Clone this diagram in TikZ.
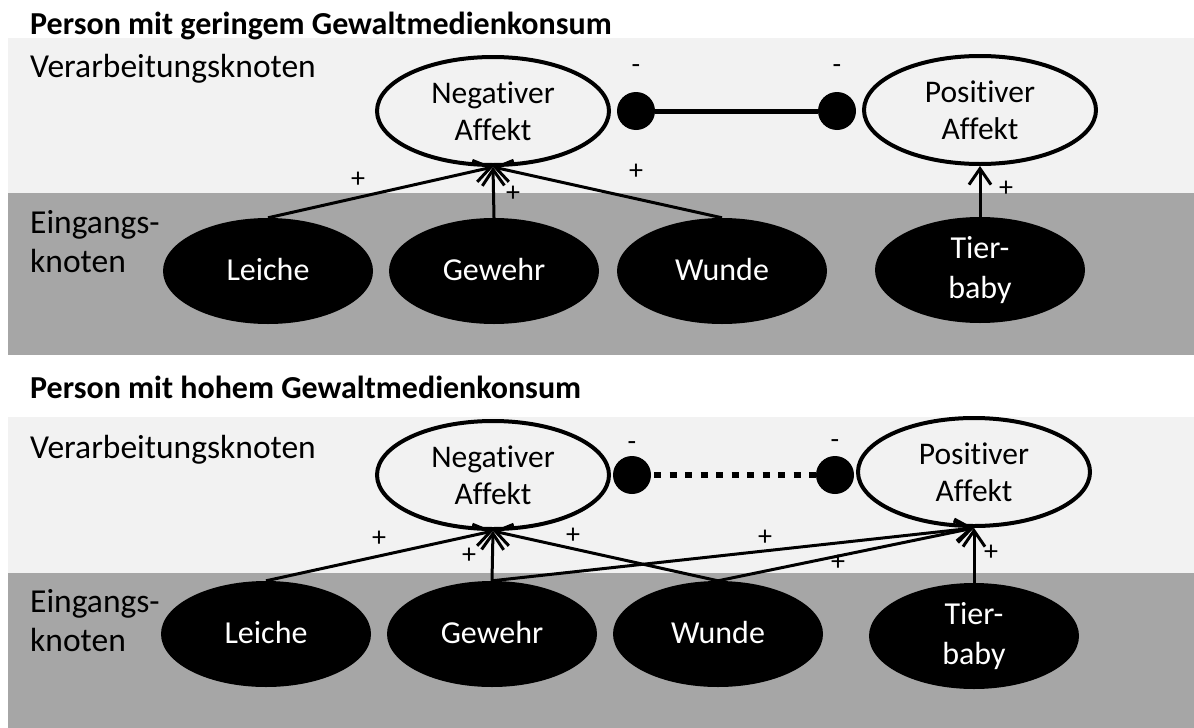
\documentclass[tikz,border=0pt]{standalone}
\usepackage{fontspec}
\setmainfont{Carlito}[Ligatures={NoCommon,NoRequired,NoContextual}]
\usetikzlibrary{shapes.geometric,arrows.meta}
\definecolor{bandlight}{HTML}{F2F2F2}
\definecolor{banddark}{HTML}{A6A6A6}

\begin{document}
\begin{tikzpicture}[x=1pt,y=-1pt,
  bandA/.style={fill=bandlight,draw=none},
  bandB/.style={fill=banddark,draw=none},
  heading/.style={anchor=base west,inner sep=0,font=\fontsize{32}{38}\selectfont\bfseries},
  rowname/.style={anchor=base west,inner sep=0,font=\fontsize{33.5}{39}\selectfont},
  rowname2/.style={anchor=west,inner sep=0,align=left,font=\fontsize{33.5}{39}\selectfont},
  affect/.style={ellipse,draw=black,line width=4pt,fill=bandlight,minimum width=232pt,
    minimum height=108pt,inner sep=0,align=center,font=\fontsize{31.5}{37}\selectfont},
  cue/.style={ellipse,fill=black,text=white,minimum width=210pt,minimum height=106pt,
    inner sep=0,align=center,font=\fontsize{32}{40}\selectfont},
  cueone/.style={cue,text height=21pt,text depth=2pt},
  knob/.style={circle,fill=black,minimum size=38pt,inner sep=0},
  link/.style={line width=3pt,-{Straight Barb[length=16pt,width=22pt]}},
  inhib/.style={line width=5pt},
  inhibweak/.style={line width=6.5pt,dash pattern=on 7pt off 8.5pt,dash phase=-3pt},
  sign/.style={inner sep=0,font=\fontsize{28}{28}\selectfont},
]
\useasboundingbox (0,0) rectangle (1194,728);

% background bands
\fill[bandA] (8,38) rectangle (1194,193);
\fill[bandB] (8,193) rectangle (1194,355);
\fill[bandA] (8,417) rectangle (1194,573);
\fill[bandB] (8,573) rectangle (1194,728);

% ---------- low consumption ----------
\node[heading] (title1) at (30,34) {Person mit geringem Gewaltmedienkonsum};
\node[rowname] (proc1) at (30,77) {Verarbeitungsknoten};
\node[rowname2] (input1) at (30,242) {Eingangs-\\knoten};

\node[affect] (neg1) at (493,111) {Negativer\\Affekt};
\node[affect] (pos1) at (980,110) {Positiver\\Affekt};
\node[knob] (k1a) at (636,111) {};
\node[knob] (k1b) at (837,111) {};
\draw[inhib] (k1a) -- (k1b);

\node[cueone] (leiche1) at (268,271) {Leiche};
\node[cueone] (gewehr1) at (494,271) {Gewehr};
\node[cueone] (wunde1) at (722,271) {Wunde};
\node[cue] (tier1) at (980,270) {Tier-\\baby};

\draw[link] (leiche1.north) -- (neg1.south);
\draw[link] (gewehr1.north) -- (neg1.south);
\draw[link] (wunde1.north) -- (neg1.south);
\draw[link] (tier1.north) -- (pos1.south);

\node[sign] (m1a) at (636,69) {-};
\node[sign] (m1b) at (837,69) {-};
\node[sign] (p1a) at (358,180) {+};
\node[sign] (p1b) at (513,194) {+};
\node[sign] (p1c) at (636,172) {+};
\node[sign] (p1d) at (1006,189) {+};

% ---------- high consumption ----------
\node[heading] (title2) at (30,398) {Person mit hohem Gewaltmedienkonsum};
\node[rowname] (proc2) at (30,458) {Verarbeitungsknoten};
\node[rowname2] (input2) at (30,621) {Eingangs-\\knoten};

\node[affect] (neg2) at (493,475) {Negativer\\Affekt};
\node[affect] (pos2) at (974,472) {Positiver\\Affekt};
\node[knob] (k2a) at (632,475) {};
\node[knob] (k2b) at (835,475) {};
\draw[inhibweak] (k2a) -- (k2b);

\node[cueone] (leiche2) at (266,634) {Leiche};
\node[cueone] (gewehr2) at (492,634) {Gewehr};
\node[cueone] (wunde2) at (718,634) {Wunde};
\node[cue] (tier2) at (974,636) {Tier-\\baby};

\draw[link] (leiche2.north) -- (neg2.south);
\draw[link] (gewehr2.north) -- (neg2.south);
\draw[link] (wunde2.north) -- (neg2.south);
\draw[link] (gewehr2.north) -- (pos2.south);
\draw[link] (wunde2.north) -- (pos2.south);
\draw[link] (tier2.north) -- (pos2.south);

\node[sign] (m2a) at (632,446) {-};
\node[sign] (m2b) at (835,444) {-};
\node[sign] (p2a) at (379,539) {+};
\node[sign] (p2b) at (469,556) {+};
\node[sign] (p2c) at (573,536) {+};
\node[sign] (p2d) at (765,538) {+};
\node[sign] (p2e) at (838,563) {+};
\node[sign] (p2f) at (991,553) {+};
\end{tikzpicture}
\end{document}
